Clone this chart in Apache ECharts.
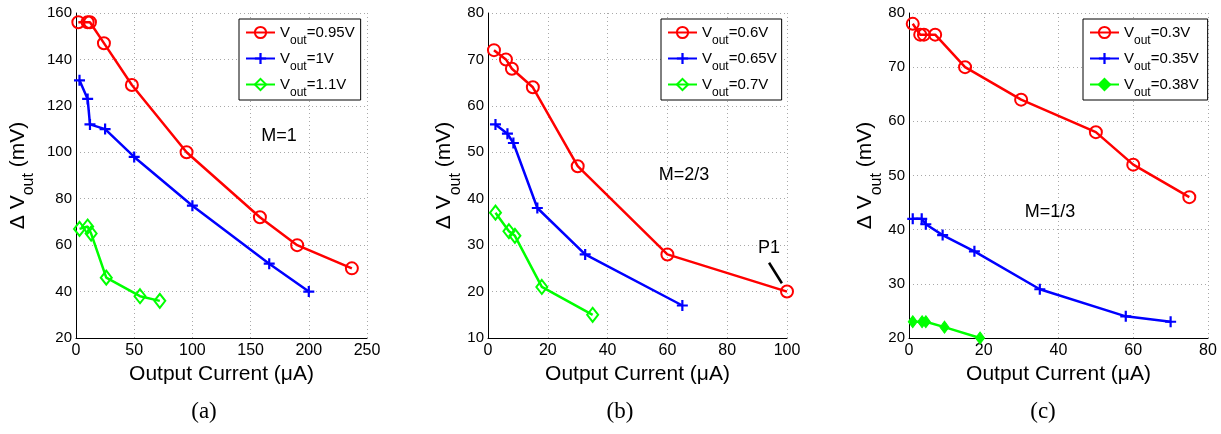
<!DOCTYPE html>
<html><head><meta charset="utf-8">
<script src="https://cdn.jsdelivr.net/npm/echarts@6/dist/echarts.min.js"></script>
<style>html,body{margin:0;padding:0;background:#fff}#c{width:1221px;height:434px}</style>
</head><body><div id="c"></div>
<script>
// ---- Panel (a), M=1 ----
const aNames = ['Vout=0.95V', 'Vout=1V', 'Vout=1.1V'];
const aRedX = [2, 10, 12, 24, 48, 95, 158, 190, 237];
const aRedY = [156, 156, 156, 147, 129, 100, 72, 60, 50];
const aBlueX = [3, 10, 12, 25, 50, 100, 166, 200];
const aBlueY = [131, 123, 112, 110, 98, 77, 52, 40];
const aGreenX = [3, 10, 13, 26, 55, 72];
const aGreenY = [67, 68, 65, 46, 38, 36];
// ---- Panel (b), M=2/3 ----
const bNames = ['Vout=0.6V', 'Vout=0.65V', 'Vout=0.7V'];
const bRedX = [2, 6, 8, 15, 30, 60, 100];
const bRedY = [72, 70, 68, 64, 47, 28, 20];
const bBlueX = [2.5, 6.5, 8.5, 16.5, 32.5, 65];
const bBlueY = [56, 54, 52, 38, 28, 17];
const bGreenX = [2.5, 7, 9, 18, 35];
const bGreenY = [37, 33, 32, 21, 15];
// ---- Panel (c), M=1/3 ----
const cNames = ['Vout=0.3V', 'Vout=0.35V', 'Vout=0.38V'];
const cRedX = [1, 3, 4, 7, 15, 30, 50, 60, 75];
const cRedY = [78, 76, 76, 76, 70, 64, 58, 52, 46];
const cBlueX = [1, 3.4, 4.5, 9, 17.5, 35, 58, 70];
const cBlueY = [42, 42, 41, 39, 36, 29, 24, 23];
const cGreenX = [1, 3.5, 4.5, 9.5, 19];
const cGreenY = [23, 23, 23, 22, 20];
// ---- axes ----
const xMax = [250, 100, 80];
const xStep = [50, 20, 20];
const yMin = [20, 10, 20];
const yMax = [160, 80, 80];
const yStep = [20, 10, 10];
const panelLabels = ['M=1', 'M=2/3', 'M=1/3'];
const captions = ['(a)', '(b)', '(c)'];
// P1 annotation (data coords of panel b)
const p1Text = [94, 29.3];
const p1Line = [[94, 26.2], [98.3, 21.8]];

const F = '"Liberation Sans", Arial, Helvetica, sans-serif';
const RED = '#ff0000', BLUE = '#0000ff', GREEN = '#00ff00';
const PLUS = 'path://M4,0H6V4H10V6H6V10H4V6H0V4H4Z';

function zip(xs, ys) { return xs.map((x, i) => [x, ys[i]]); }

function series(name, gi, xs, ys, kind, filledDiamond) {
  const s = {
    type: 'line', name, xAxisIndex: gi, yAxisIndex: gi, data: zip(xs, ys),
    lineStyle: { width: 2.5 }, animation: false, z: kind === 'red' ? 3 : 2
  };
  if (kind === 'red') {
    s.symbol = 'circle'; s.symbolSize = 12;
    s.lineStyle.color = RED;
    s.itemStyle = { color: 'rgba(255,255,255,0)', borderColor: RED, borderWidth: 2 };
  } else if (kind === 'blue') {
    s.symbol = PLUS; s.symbolSize = 11;
    s.lineStyle.color = BLUE;
    s.itemStyle = { color: BLUE, borderWidth: 0 };
  } else {
    s.symbol = 'diamond';
    s.symbolSize = filledDiamond ? [9, 12] : [11, 14];
    s.lineStyle.color = GREEN;
    s.itemStyle = filledDiamond
      ? { color: GREEN, borderColor: GREEN, borderWidth: 1 }
      : { color: 'rgba(255,255,255,0)', borderColor: GREEN, borderWidth: 2 };
  }
  return s;
}

function xAx(gi) {
  return {
    type: 'value', gridIndex: gi, min: 0, max: xMax[gi], interval: xStep[gi],
    name: 'Output Current (μA)', nameLocation: 'middle', nameGap: 22,
    nameTextStyle: { fontSize: 21, color: '#000', fontFamily: F },
    axisLine: { onZero: false, lineStyle: { color: '#000', width: 1 } },
    axisTick: { show: false },
    axisLabel: { color: '#000', fontSize: 16, margin: 5, fontFamily: F },
    splitLine: { show: true, lineStyle: { color: '#a8a8a8', type: [1, 3], width: 1 } }
  };
}
const yGap = [39, 19, 22];
function yAx(gi) {
  return {
    type: 'value', gridIndex: gi, min: yMin[gi], max: yMax[gi], interval: yStep[gi],
    name: '{d|Δ V}{s|out}{d| (mV)}', nameLocation: 'middle', nameGap: yGap[gi], nameRotate: 90,
    nameTextStyle: {
      color: '#000', fontFamily: F,
      rich: {
        d: { fontSize: 21, fontFamily: F, color: '#000' },
        s: { fontSize: 16, padding: [22, 0, 0, 0], fontFamily: F, color: '#000' }
      }
    },
    axisLine: { show: true, onZero: false, lineStyle: { color: '#000', width: 1 } },
    axisTick: { show: false },
    axisLabel: { color: '#000', fontSize: 15, margin: 4, fontFamily: F },
    splitLine: { show: true, lineStyle: { color: '#a8a8a8', type: [1, 3], width: 1 } }
  };
}
function legend(names, left, padR) {
  return {
    data: names, orient: 'vertical', left, top: 19,
    padding: [6, padR, 1, 6], itemGap: 4, itemWidth: 29, itemHeight: 14,
    backgroundColor: '#fff', borderColor: '#000', borderWidth: 1, borderRadius: 0,
    selectedMode: false,
    formatter: n => '{v|V}{s|out}{v|' + n.slice(4) + '}',
    textStyle: {
      rich: {
        v: { fontSize: 15, fontFamily: F, color: '#000' },
        s: { fontSize: 12, padding: [17, 0, 0, 0], fontFamily: F, color: '#000' }
      }
    }
  };
}

const capX = [204, 620, 1043];
const mPos = [[279, 136], [684, 175], [1050, 212]];

const graphics = [];
for (let i = 0; i < 3; i++) {
  graphics.push({ type: 'text', x: mPos[i][0], y: mPos[i][1], silent: true,
    style: { text: panelLabels[i], font: '18px ' + F, fill: '#000', textAlign: 'center', textVerticalAlign: 'middle' } });
  graphics.push({ type: 'text', x: capX[i], y: 412, silent: true,
    style: { text: captions[i], font: '23px "Liberation Serif", "DejaVu Serif", serif', fill: '#000', textAlign: 'center', textVerticalAlign: 'middle' } });
}

const bRed = series(bNames[0], 1, bRedX, bRedY, 'red');
bRed.markLine = {
  silent: true, symbol: 'none', animation: false,
  lineStyle: { color: '#000', width: 2.5, type: 'solid' },
  label: { show: false },
  data: [[{ coord: p1Line[0] }, { coord: p1Line[1] }]]
};
bRed.markPoint = {
  silent: true, animation: false, symbol: 'circle', symbolSize: 1,
  itemStyle: { color: 'rgba(0,0,0,0)' },
  label: { show: true, position: 'inside', formatter: 'P1', fontSize: 18, color: '#000', fontFamily: F },
  data: [{ coord: p1Text }]
};

const option = {
  backgroundColor: '#fff',
  animation: false,
  grid: [
    { left: 76, top: 13, width: 291, height: 325 },
    { left: 488, top: 13, width: 299, height: 325 },
    { left: 909, top: 13, width: 299, height: 325 }
  ],
  xAxis: [xAx(0), xAx(1), xAx(2)],
  yAxis: [yAx(0), yAx(1), yAx(2)],
  legend: [legend(aNames, 239, 6), legend(bNames, 661, 5), legend(cNames, 1083, 9)],
  graphic: graphics,
  series: [
    series(aNames[0], 0, aRedX, aRedY, 'red'),
    series(aNames[1], 0, aBlueX, aBlueY, 'blue'),
    series(aNames[2], 0, aGreenX, aGreenY, 'green'),
    bRed,
    series(bNames[1], 1, bBlueX, bBlueY, 'blue'),
    series(bNames[2], 1, bGreenX, bGreenY, 'green'),
    series(cNames[0], 2, cRedX, cRedY, 'red'),
    series(cNames[1], 2, cBlueX, cBlueY, 'blue'),
    series(cNames[2], 2, cGreenX, cGreenY, 'green', true)
  ]
};
const chart = echarts.init(document.getElementById('c'), null, { renderer: 'canvas' });
chart.setOption(option);
</script>
</body></html>
